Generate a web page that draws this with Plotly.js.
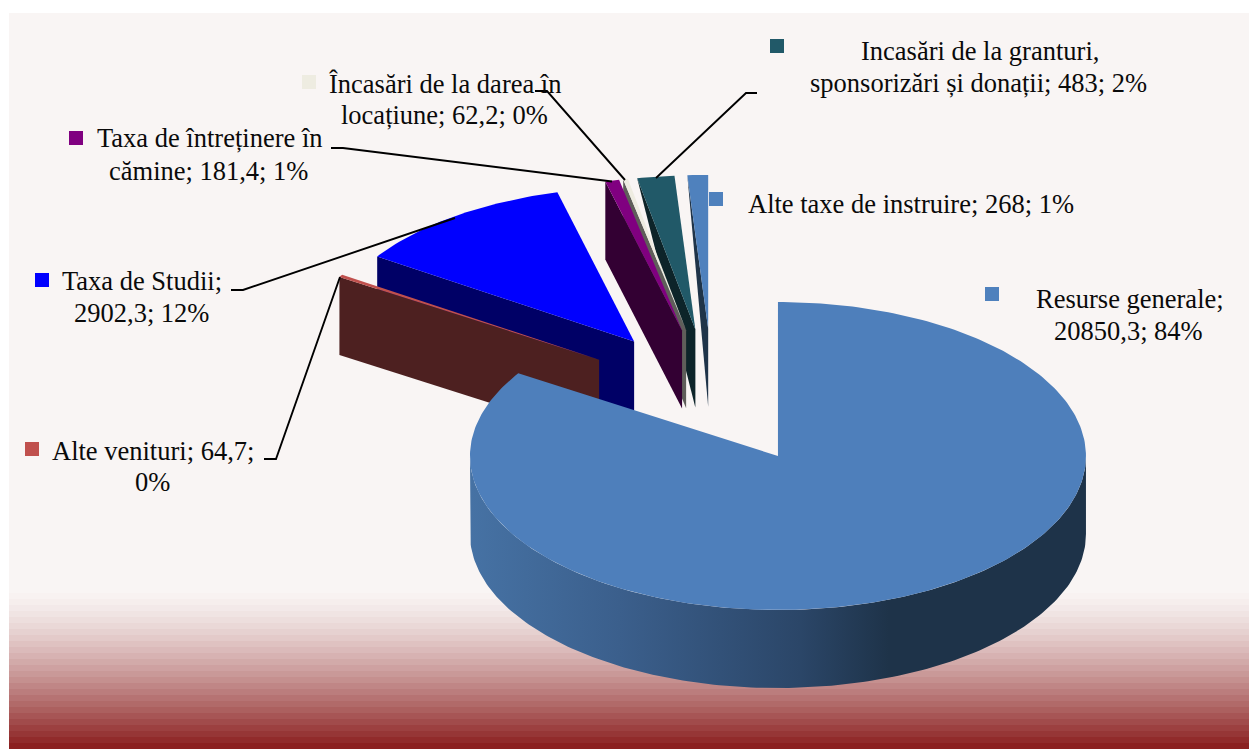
<!DOCTYPE html>
<html><head><meta charset="utf-8">
<script src="https://cdn.plot.ly/plotly-3.0.1.min.js"></script>
<style>html,body{margin:0;padding:0;background:#fff}#c{width:1249px;height:749px}</style></head>
<body><div id="c"></div>
<script>
// ---- data, in clockwise order from 12 o'clock ----
const categories = ["Resurse generale","Alte venituri","Taxa de Studii","Taxa de întreținere în cămine","Încasări de la darea în locațiune","Incasări de la granturi, sponsorizări și donații","Alte taxe de instruire"];
const values = [20850.3,64.7,2902.3,181.4,62.2,483,268];
const labelLines = [
  ["Resurse generale;","20850,3; 84%"],
  ["Alte venituri; 64,7;","0%"],
  ["Taxa de Studii;","2902,3; 12%"],
  ["Taxa de întreținere în","cămine; 181,4; 1%"],
  ["Încasări de la darea în","locațiune; 62,2; 0%"],
  ["Incasări de la granturi,","sponsorizări și donații; 483; 2%"],
  ["Alte taxe de instruire; 268; 1%"]
];
// ---- styling ----
const topColors = ["#4e7fbb","#c0504d","#0000ff","#800080","#eeece1","#215968","#4f81bd"];
const wallColors = ["#1e3349","#4d2020","#000066","#330033","#5f5e5a","#0d2429","#1f3449"];
const outerWallShare = [1,1,1,1,1,0,0];       // how far the wall drops at the rim
const drawOrder = [6,5,4,3,2,1,0];
const labelCenters = [[[1130,299],[1128,331]],[[153,451],[152,482]],[[142,281],[141,313]],[[210,138],[208,171]],[[444.5,84],[444,115]],[[980,51],[978,83]],[[911,204]]];
const markerCenters = [[992,294],[32,449],[42,280],[76,138],[309,82],[777,46],[716,199]];
const markerColors = ["#4f81bd","#c0504d","#0000ff","#800080","#eeece1","#215968","#4f81bd"];
const leaders = [null,[[264,459],[276,459],[340,277]],[[231,290],[243,290],[455,218]],[[331,148],[343,148],[612,181.5]],[[535,91],[547,91],[625,180]],[[757,93],[746,93],[656,178]],null];
const CX=712.8, CY=396.6, RX=308, RY=154, DEPTH=78, EXPLODE=0.44;
const BG="#f9f5f4";

const total = values.reduce((a,b)=>a+b,0);
const rad = d=>d*Math.PI/180;
let acc = 0;
const slices = values.map(v=>{const s=acc; acc+=v/total*360; return {a0:s,a1:acc};});
slices.forEach(s=>{const m=rad((s.a0+s.a1)/2); s.ax=CX+EXPLODE*RX*Math.sin(m); s.ay=CY-EXPLODE*RY*Math.cos(m);});
const rim=(s,d,dy=0)=>[s.ax+RX*Math.sin(rad(d)), s.ay-RY*Math.cos(rad(d))+dy];
function poly(pts,color,name,extra){
  return Object.assign({type:'scatter',mode:'lines',x:pts.map(p=>p[0]),y:pts.map(p=>p[1]),fill:'toself',fillcolor:color,line:{width:0,color:color},name:name,hoverinfo:'skip',showlegend:false},extra||{});
}
function arc(s,d0,d1,dy){const out=[];const n=Math.max(2,Math.ceil(Math.abs(d1-d0)));for(let i=0;i<=n;i++)out.push(rim(s,d0+(d1-d0)*i/n,dy));return out;}

const traces = [];
// background panel + bottom gradient
const gTop=587, gBot=749, steps=27;
const gradStops=[];
const c0=[249,245,244], c1=[139,32,32];
for(let i=0;i<steps;i++){
  const t=Math.pow(i/(steps-1),1.35);
  const c=`rgb(${c0.map((v,k)=>Math.round(v+(c1[k]-v)*t)).join(',')})`;
  gradStops.push([i/steps,c],[(i+1)/steps,c]);
}
traces.push(poly([[9,13],[1249,13],[1249,gTop],[9,gTop]],BG,'panel'));
traces.push(poly([[9,gTop],[1249,gTop],[1249,gBot],[9,gBot]],BG,'panel gradient',{fillgradient:{type:'vertical',start:gTop,stop:gBot,colorscale:gradStops}}));

// exploded small slices, back to front
drawOrder.forEach(i=>{
  if(i===0) return;
  const s=slices[i];
  const o=rim(s,s.a0);
  traces.push(poly([o,[s.ax,s.ay],[s.ax,s.ay+DEPTH],[o[0],o[1]+DEPTH*outerWallShare[i]]],wallColors[i],categories[i]+' wall'));
  traces.push(poly([[s.ax,s.ay],...arc(s,s.a0,s.a1,0)],topColors[i],categories[i]));
});
// main slice
const m=slices[0];
traces.push(poly([...arc(m,90,270,0),...arc(m,270,90,DEPTH)],wallColors[0],categories[0]+' wall',{
  fillgradient:{type:'horizontal',start:m.ax-RX,stop:m.ax+RX,colorscale:[[0,'#4672a4'],[0.243,'#3b5f8c'],[0.536,'#2b4668'],[0.68,'#1e3349'],[1,'#1e3349']]}
}));
traces.push(poly([[m.ax,m.ay],...arc(m,m.a0,m.a1,0)],topColors[0],categories[0]));

// leader lines
leaders.forEach((l,i)=>{ if(!l) return;
  traces.push({type:'scatter',mode:'lines',x:l.map(p=>p[0]),y:l.map(p=>p[1]),line:{color:'#000',width:1.9},hoverinfo:'skip',showlegend:false,name:categories[i]+' leader'});
});
// legend keys
traces.push({type:'scatter',mode:'markers',x:markerCenters.map(p=>p[0]),y:markerCenters.map(p=>p[1]),marker:{symbol:'square',size:14,color:markerColors,line:{width:0}},hoverinfo:'skip',showlegend:false,name:'keys'});

const annotations=[];
labelLines.forEach((lines,i)=>lines.forEach((t,j)=>{
  annotations.push({text:t,x:labelCenters[i][j][0],y:labelCenters[i][j][1],xref:'x',yref:'y',xanchor:'center',yanchor:'middle',showarrow:false,font:{family:'"Liberation Serif",serif',size:26.5,color:'#0a0a0a'}});
}));

Plotly.newPlot('c',traces,{
  width:1249,height:749,margin:{l:0,r:0,t:0,b:0,pad:0},
  paper_bgcolor:'#fff',plot_bgcolor:'#fff',showlegend:false,hovermode:false,
  xaxis:{range:[0,1249],visible:false,fixedrange:true},
  yaxis:{range:[749,0],visible:false,fixedrange:true},
  annotations:annotations
},{displayModeBar:false,staticPlot:true});
</script></body></html>
